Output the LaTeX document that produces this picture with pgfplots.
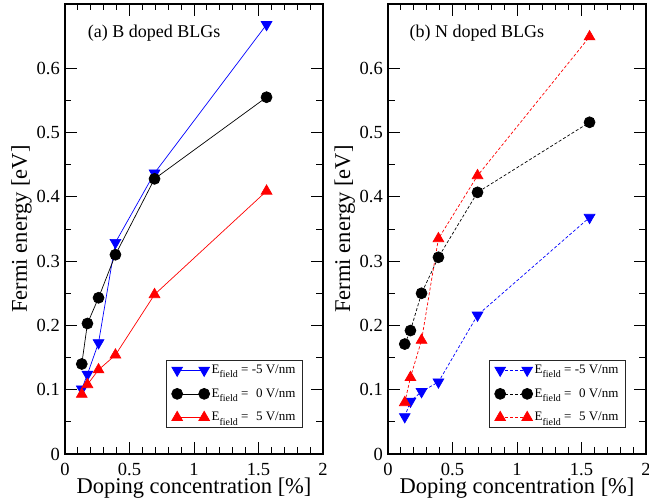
\documentclass[border=0pt]{standalone}
\usepackage{fontspec}
\setmainfont{Liberation Serif}
\usepackage{pgfplots}
\pgfplotsset{compat=1.18}

\newcommand{\Ef}{E\raisebox{-4.2pt}{\fontsize{10}{10}\selectfont field}}

\pgfplotsset{
  fermi panel/.style={
    scale only axis,
    width=258pt,
    height=450pt,
    xmin=0, xmax=2,
    ymin=0, ymax=0.7,
    xtick={0,0.5,1,1.5,2},
    xticklabels={0,0.5,1,1.5,2},
    ytick={0,0.1,0.2,0.3,0.4,0.5,0.6},
    yticklabels={0,0.1,0.2,0.3,0.4,0.5,0.6},
    minor x tick num=4,
    minor y tick num=1,
    tick align=inside,
    major tick length=12pt,
    minor tick length=6.5pt,
    every tick/.style={black, line width=0.9pt},
    axis line style={line width=1.3pt},
    tick label style={font=\fontsize{18.5}{18.5}\selectfont, inner sep=0pt},
    yticklabel style={xshift=-5pt},
    xticklabel style={yshift=-9pt},
    label style={font=\fontsize{22.5}{22.5}\selectfont, inner sep=0pt},
    /pgf/number format/assume math mode=true,
    xlabel={Doping concentration [\%]},
    ylabel={Fermi energy [eV]},
    xlabel style={at={(axis description cs:0.5,0)}, anchor=base, yshift=-39.5pt},
    ylabel style={at={(axis description cs:0,0.5)}, anchor=base, yshift=38pt},
    legend style={
      at={(0.922,0.058)}, anchor=south east,
      draw=black!85, line width=0.8pt,
      font=\fontsize{13}{13}\selectfont,
      inner xsep=5pt, inner ysep=3pt,
      nodes={inner sep=2pt},
      row sep=9.5pt,
    },
    legend cell align=left,
    legend image code/.code={\draw plot coordinates {(0pt,0pt) (27pt,0pt)};},
  },
  blueset/.style={color=blue, line width=0.7pt, mark=triangle*, mark size=6.2pt, mark options={solid, rotate=180}},
  blackset/.style={color=black, line width=0.7pt, mark=*, mark size=5.5pt, mark options={solid}},
  redset/.style={color=red, line width=0.7pt, mark=triangle*, mark size=6.2pt, mark options={solid}},
}

\begin{document}
\begin{tikzpicture}
\useasboundingbox (-65pt,-49pt) rectangle (584pt,454pt);
% (a) B doped
\begin{axis}[fermi panel]
\addplot[blueset] coordinates {(0.130,0.101) (0.174,0.124) (0.260,0.173) (0.391,0.329) (0.694,0.437) (1.5625,0.668)};
\addlegendentry{\Ef{} = -5 V/nm}
\addplot[blackset] coordinates {(0.130,0.140) (0.174,0.203) (0.260,0.243) (0.391,0.310) (0.694,0.428) (1.5625,0.555)};
\addlegendentry{\Ef{} = \phantom{-}0 V/nm}
\addplot[redset] coordinates {(0.130,0.093) (0.174,0.108) (0.260,0.131) (0.391,0.154) (0.694,0.248) (1.5625,0.409)};
\addlegendentry{\Ef{} = \phantom{-}5 V/nm}
\node[anchor=west, font=\fontsize{18}{18}\selectfont] at (axis description cs:0.075,0.935) {(a) B doped BLGs};
\end{axis}
% (b) N doped
\begin{axis}[fermi panel, xshift=323pt]
\addplot[blueset, dash pattern=on 3pt off 2pt] coordinates {(0.130,0.058) (0.174,0.082) (0.260,0.097) (0.391,0.112) (0.694,0.216) (1.5625,0.368)};
\addlegendentry{\Ef{} = -5 V/nm}
\addplot[blackset, dash pattern=on 3pt off 2pt] coordinates {(0.130,0.171) (0.174,0.192) (0.260,0.250) (0.391,0.306) (0.694,0.407) (1.5625,0.516)};
\addlegendentry{\Ef{} = \phantom{-}0 V/nm}
\addplot[redset, dash pattern=on 3pt off 2pt] coordinates {(0.130,0.080) (0.174,0.119) (0.260,0.177) (0.391,0.335) (0.694,0.433) (1.5625,0.649)};
\addlegendentry{\Ef{} = \phantom{-}5 V/nm}
\node[anchor=west, font=\fontsize{18}{18}\selectfont] at (axis description cs:0.07,0.935) {(b) N doped BLGs};
\end{axis}
\end{tikzpicture}
\end{document}
